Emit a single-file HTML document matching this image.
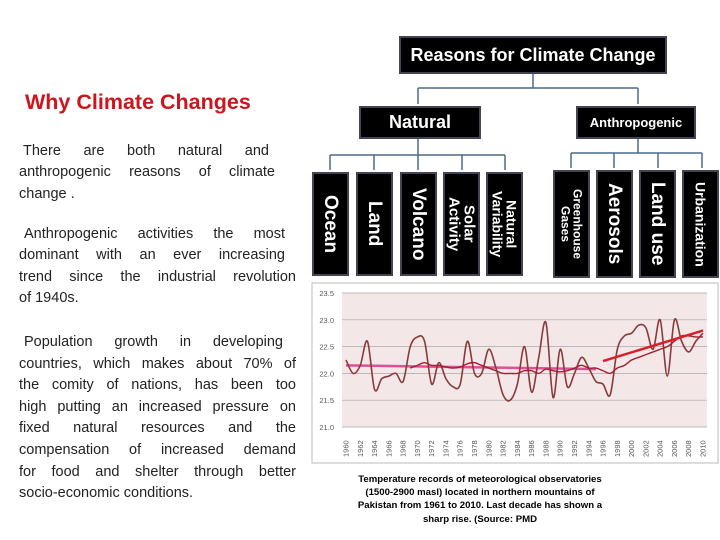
<!DOCTYPE html>
<html><head><meta charset="utf-8"><style>
body{margin:0;width:720px;height:540px;background:#fff;position:relative;overflow:hidden;font-family:"Liberation Sans",sans-serif}
.abs{position:absolute}
.ln{position:absolute;left:19px;width:277px;font-size:14.5px;color:#222;white-space:nowrap}
.j{text-align:justify;text-align-last:justify}
.box{position:absolute;background:#000;color:#fff;font-weight:bold;display:flex;align-items:center;justify-content:center;border:2px solid #445;white-space:nowrap}
.v{writing-mode:vertical-rl;font-weight:bold;color:#fff;line-height:1.0;text-align:center}
.cap{position:absolute;left:330px;width:300px;text-align:center;font-size:9.6px;font-weight:bold;color:#000}
</style></head><body>
<div class="abs" style="left:25px;top:90px;font-size:21.5px;font-weight:bold;color:#d0141c">Why Climate Changes</div>
<div>
<div class="ln j" style="top:143px;padding-left:4px;width:246px">There are both natural and</div>
<div class="ln j" style="top:164px;width:256px">anthropogenic reasons of climate</div>
<div class="ln" style="top:186px">change .</div></div>
<div>
<div class="ln j" style="top:226px;padding-left:5px;width:261px">Anthropogenic activities the most</div>
<div class="ln j" style="top:247px;width:266px">dominant with an ever increasing</div>
<div class="ln j" style="top:269px">trend since the industrial revolution</div>
<div class="ln" style="top:290px">of 1940s.</div></div>
<div>
<div class="ln j" style="top:334px;padding-left:5px;width:259px">Population growth in developing</div>
<div class="ln j" style="top:356px">countries, which makes about 70% of</div>
<div class="ln j" style="top:377px">the comity of nations, has been too</div>
<div class="ln j" style="top:399px">high putting an increased pressure on</div>
<div class="ln j" style="top:420px">fixed natural resources and the</div>
<div class="ln j" style="top:442px">compensation of increased demand</div>
<div class="ln j" style="top:464px">for food and shelter through better</div>
<div class="ln" style="top:485px">socio-economic conditions.</div></div>

<svg class="abs" style="left:0;top:0" width="720" height="300">
<g stroke="#4a6a8a" stroke-width="1.5" fill="#4a6a8a">
<line x1="533" y1="73" x2="533" y2="88"/><line x1="418" y1="88" x2="638" y2="88"/>
<line x1="418" y1="88" x2="418" y2="104"/><line x1="638" y1="88" x2="638" y2="104"/>
<line x1="418" y1="138" x2="418" y2="155"/><line x1="330" y1="155" x2="505" y2="155"/>
<line x1="638" y1="138" x2="638" y2="153"/><line x1="571" y1="153" x2="702" y2="153"/>
<line x1="330" y1="155" x2="330" y2="170"/><line x1="374" y1="155" x2="374" y2="170"/><line x1="418" y1="155" x2="418" y2="170"/><line x1="462" y1="155" x2="462" y2="170"/><line x1="505" y1="155" x2="505" y2="170"/>
<line x1="571" y1="153" x2="571" y2="168"/><line x1="614" y1="153" x2="614" y2="168"/><line x1="658" y1="153" x2="658" y2="168"/><line x1="702" y1="153" x2="702" y2="168"/>
</g></svg>
<div class="box" style="left:399px;top:36px;width:264px;height:34px;font-size:18px">Reasons for Climate Change</div>
<div class="box" style="left:359px;top:106px;width:118px;height:29px;font-size:18px">Natural</div>
<div class="box" style="left:576px;top:106px;width:116px;height:29px;font-size:13px">Anthropogenic</div>
<div class="box" style="left:312px;top:172px;width:33px;height:100px"><span class="v" style="font-size:19px">Ocean</span></div>
<div class="box" style="left:356px;top:172px;width:33px;height:100px"><span class="v" style="font-size:19px">Land</span></div>
<div class="box" style="left:400px;top:172px;width:33px;height:100px"><span class="v" style="font-size:19px">Volcano</span></div>
<div class="box" style="left:443px;top:172px;width:33px;height:100px"><span class="v" style="font-size:15px">Solar<br>Activity</span></div>
<div class="box" style="left:486px;top:172px;width:33px;height:100px"><span class="v" style="font-size:14px">Natural<br>Variability</span></div>
<div class="box" style="left:553px;top:170px;width:33px;height:104px"><span class="v" style="font-size:12px">Greenhouse<br>Gases</span></div>
<div class="box" style="left:596px;top:170px;width:33px;height:104px"><span class="v" style="font-size:19px">Aerosols</span></div>
<div class="box" style="left:639px;top:170px;width:33px;height:104px"><span class="v" style="font-size:19px">Land use</span></div>
<div class="box" style="left:682px;top:170px;width:33px;height:104px"><span class="v" style="font-size:14px">Urbanization</span></div>

<svg id="chart" class="abs" style="left:0;top:0" width="720" height="540"></svg>
<div>
<div class="cap" style="top:474px">Temperature records of meteorological observatories</div>
<div class="cap" style="top:487px">(1500-2900 masl) located in northern mountains of</div>
<div class="cap" style="top:500px">Pakistan from 1961 to 2010. Last decade has shown a</div>
<div class="cap" style="top:514px">sharp rise. (Source: PMD</div></div>
<script>
const years=[];for(let y=1960;y<=2010;y++)years.push(y);
const temps=[22.25,22.0,22.15,22.6,21.7,21.9,21.95,22.0,21.85,22.5,22.68,22.6,21.8,22.2,21.9,21.75,21.8,22.6,22.0,22.0,22.45,22.1,21.6,21.5,21.8,22.5,21.65,22.3,22.95,21.55,22.45,21.75,22.0,22.3,22.1,21.85,21.8,21.6,22.45,22.7,22.75,22.9,22.85,22.45,23.0,21.95,23.0,22.6,22.4,22.6,22.75];
const movingAvgStart=1969;
const movingAvg=[22.1,22.15,22.2,22.15,22.15,22.12,22.1,22.12,22.18,22.2,22.15,22.1,22.05,22.0,22.0,22.0,22.05,22.05,22.0,22.08,22.05,22.03,22.05,22.1,22.15,22.1,22.1,22.05,22.0,22.1,22.15,22.25,22.3,22.35,22.4,22.45,22.5,22.6,22.7,22.7,22.68,22.68];
const trend1=[[1960,22.15],[1995,22.08]];
const trend2=[[1996,22.23],[2010,22.8]];
const yTicks=[21.0,21.5,22.0,22.5,23.0,23.5];
const NS="http://www.w3.org/2000/svg",svg=document.getElementById('chart');
const px=y=>346+(y-1960)*(703-346)/50, py=v=>427-(v-21)*(427-293)/2.5;
function mk(t,a){const e=document.createElementNS(NS,t);for(const k in a)e.setAttribute(k,a[k]);svg.appendChild(e);return e;}
let e=mk('rect',{x:312,y:283,width:406,height:180,fill:'#fff',stroke:'#bbb'});


e=mk('rect',{x:342,y:293,width:365,height:134,fill:'#f3e7e7'});


yTicks.forEach(v=>{let g=mk('line',{x1:342,x2:707,y1:py(v),y2:py(v),stroke:'#aaa','stroke-width':0.7});


let t=mk('text',{x:334,y:py(v)+3,'text-anchor':'end','font-size':7.5,fill:'#555'});t.textContent=v.toFixed(1);

});
years.forEach((y,i)=>{if(y%2)return;let t=mk('text',{transform:`translate(${px(y)+2.5},${457}) rotate(-90)`,'font-size':7.5,fill:'#555'});t.textContent=y;

});
function smooth(pts){let d=`M${pts[0][0]},${pts[0][1]}`;for(let i=0;i<pts.length-1;i++){const p0=pts[i-1]||pts[i],p1=pts[i],p2=pts[i+1],p3=pts[i+2]||p2;d+=` C${p1[0]+(p2[0]-p0[0])/6},${p1[1]+(p2[1]-p0[1])/6} ${p2[0]-(p3[0]-p1[0])/6},${p2[1]-(p3[1]-p1[1])/6} ${p2[0]},${p2[1]}`;}return d;}
e=mk('path',{d:smooth(trend1.map(p=>[px(p[0]),py(p[1])])),stroke:'#e0509a','stroke-width':2.5,fill:'none'});


e=mk('path',{d:smooth(temps.map((v,i)=>[px(years[i]),py(v)])),stroke:'#8a3a3a','stroke-width':1.6,fill:'none'});


e=mk('path',{d:smooth(movingAvg.map((v,i)=>[px(movingAvgStart+i),py(v)])),stroke:'#a02030','stroke-width':1.4,fill:'none'});


e=mk('path',{d:smooth(trend2.map(p=>[px(p[0]),py(p[1])])),stroke:'#d8202a','stroke-width':2.5,fill:'none'});


</script>
</body></html>
